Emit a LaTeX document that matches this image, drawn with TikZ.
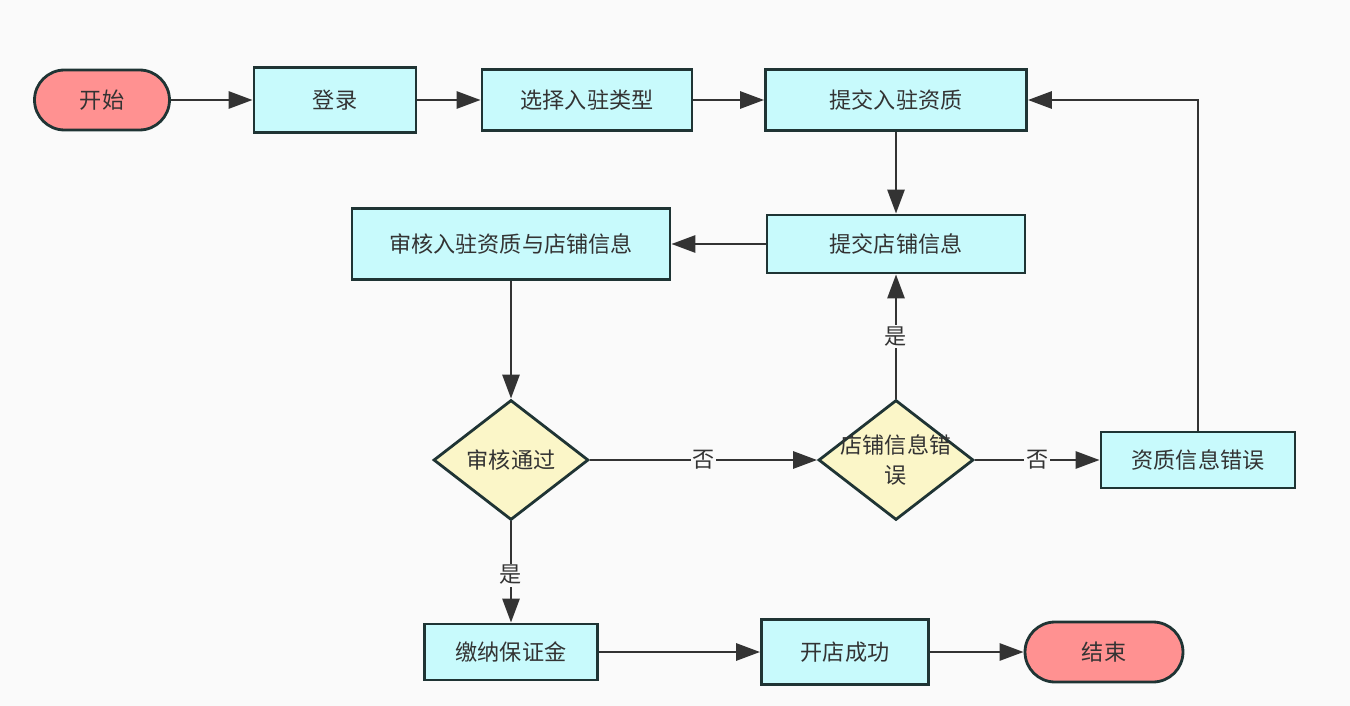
\documentclass[tikz,border=0pt]{standalone}
\usepackage{fontspec}
\newfontfamily\cjk{Noto Sans CJK SC}
\usetikzlibrary{shapes.geometric, positioning, arrows.meta}

\definecolor{boxfill}{HTML}{C8FAFC}
\definecolor{termfill}{HTML}{FF9191}
\definecolor{decfill}{HTML}{FBF6C8}
\definecolor{edgecol}{HTML}{1F3434}
\definecolor{linecol}{HTML}{333333}
\definecolor{bgcol}{HTML}{FAFAFA}

\begin{document}
\begin{tikzpicture}[x=0.02cm, y=-0.02cm, ->, >={Triangle[length=4.8mm,width=3.4mm]}, line width=1.6pt, draw=linecol]
  \tikzstyle{every node}=[font=\cjk\fontsize{12.6}{16}\selectfont, text=black!80]
  \tikzstyle{proc}=[rectangle, draw=edgecol, fill=boxfill, line width=1.6pt]
  \tikzstyle{term}=[rectangle, rounded corners=0.6cm, draw=edgecol, fill=termfill, line width=1.6pt]
  \tikzstyle{dec}=[diamond, draw=edgecol, fill=decfill, line width=1.6pt, inner sep=0pt, minimum width=3.1cm, minimum height=2.4cm, align=center]
  \tikzstyle{lbl}=[fill=bgcol, inner sep=1pt]

  \fill[bgcol] (0,0) rectangle (1350,706);
  \useasboundingbox (0,0) rectangle (1350,706);

  \node[term, minimum width=2.7cm, minimum height=1.2cm] (start) at (102,100) {开始};
  \node[proc, minimum width=3.24cm, minimum height=1.3cm] (login) at (335,100) {登录};
  \node[proc, minimum width=4.2cm, minimum height=1.22cm] (select) at (587,100) {选择入驻类型};
  \node[proc, minimum width=5.22cm, minimum height=1.22cm] (subqual) at (896,100) {提交入驻资质};
  \node[proc, minimum width=5.16cm, minimum height=1.16cm] (subshop) at (896,244) {提交店铺信息};
  \node[proc, minimum width=6.36cm, minimum height=1.42cm] (audit) at (511,244) {审核入驻资质与店铺信息};
  \node[dec] (pass) at (511,460) {审核通过};
  \node[dec, label={[align=center, font=\cjk\fontsize{12.6}{17}\selectfont]center:店铺信息错\\误}] (shoperr) at (896,460) {};
  \node[proc, minimum width=3.88cm, minimum height=1.12cm] (qualerr) at (1198,460) {资质信息错误};
  \node[proc, minimum width=3.46cm, minimum height=1.12cm] (pay) at (511,652) {缴纳保证金};
  \node[proc, minimum width=3.34cm, minimum height=1.3cm] (open) at (845,652) {开店成功};
  \node[term, minimum width=3.16cm, minimum height=1.2cm] (finish) at (1104,652) {结束};

  \draw (start) -- (login);
  \draw (login) -- (select);
  \draw (select) -- (subqual);
  \draw (subqual) -- (subshop);
  \draw (subshop) -- (audit);
  \draw (audit.south) -- (pass.north);
  \draw (pass) -- node[lbl, pos=0.5] {否} (shoperr);
  \draw (pass) -- node[lbl, pos=0.53] {是} (pay);
  \draw (shoperr.north) -- node[lbl, pos=0.5] {是} (subshop.south);
  \draw (shoperr) -- node[lbl, pos=0.5] {否} (qualerr);
  \draw (qualerr.north) |- (subqual.east);
  \draw (pay) -- (open);
  \draw (open) -- (finish);
\end{tikzpicture}
\end{document}
